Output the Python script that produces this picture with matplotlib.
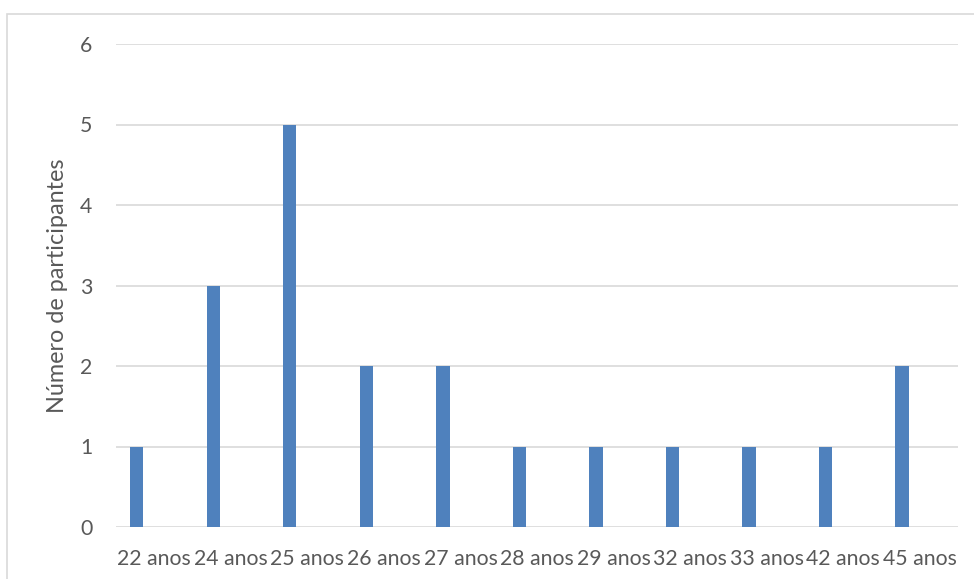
import matplotlib.pyplot as plt
from matplotlib.patches import Rectangle

# age groups and number of participants
categories = ["22 anos", "24 anos", "25 anos", "26 anos", "27 anos", "28 anos",
              "29 anos", "32 anos", "33 anos", "42 anos", "45 anos"]
counts = [1, 3, 5, 2, 2, 1, 1, 1, 1, 1, 2]
yticks = [0, 1, 2, 3, 4, 5, 6]

plt.rcParams['font.family'] = ['Lato', 'DejaVu Sans']
text_col = "#595959"
grid_col = "#d9d9d9"

fig = plt.figure(figsize=(9.74, 5.79), dpi=100)
ax = fig.add_axes([116/974, 1 - 527/579, 842/974, 483/579])

# frame round the chart area
fig.patches.append(Rectangle((7/974, -0.02), 1.0, 1 - 14/579 + 0.02,
                             transform=fig.transFigure, fill=False,
                             edgecolor=grid_col, linewidth=1.2))

x = range(len(categories))
ax.bar([i - 0.23 for i in x], counts, width=0.175, color="#4f81bd", zorder=3)

ax.set_xlim(-0.5, len(categories) - 0.5)
ax.set_ylim(0, 6)
ax.set_yticks(yticks)
ax.set_xticks(list(x))
ax.set_xticklabels(categories)
ax.grid(axis="y", color=grid_col, linewidth=1.2, zorder=0)
for s in ["top", "right", "left", "bottom"]:
    ax.spines[s].set_visible(False)
ax.tick_params(axis="both", length=0, colors=text_col, labelsize=15.3)
ax.tick_params(axis="y", pad=17)
ax.tick_params(axis="x", pad=15.5)
ax.set_ylabel("Número de participantes", color=text_col, fontsize=16.8, labelpad=9)

fig.savefig("out.png", dpi=100)
